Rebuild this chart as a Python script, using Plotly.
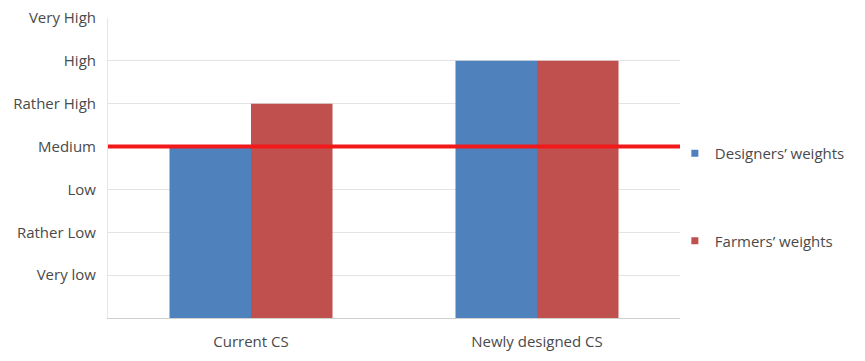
import plotly.graph_objects as go

categories = ["Current CS", "Newly designed CS"]
designers = [4, 6]
farmers = [5, 6]
tick_vals = [1, 2, 3, 4, 5, 6, 7]
tick_text = ["Very low", "Rather Low", "Low", "Medium", "Rather High", "High", "Very High"]
reference_level = 4
series_names = ["Designers\u2019 weights", "Farmers\u2019 weights"]
series_colors = ["#4F81BD", "#C0504D"]

fig = go.Figure()
for name, vals, col, grp in zip(series_names, [designers, farmers], series_colors, ["a", "b"]):
    fig.add_trace(go.Bar(name=name, x=categories, y=vals, marker_color=col,
                         marker_line_width=0, showlegend=False, legendgroup=grp))
for name, col, grp in zip(series_names, series_colors, ["a", "b"]):
    fig.add_trace(go.Scatter(name=name, x=[None], y=[None], mode="markers",
                             marker=dict(symbol="square", size=7, color=col),
                             legendgroup=grp, showlegend=True))

fig.add_shape(type="line", xref="paper", yref="y", x0=0, x1=1,
              y0=reference_level, y1=reference_level,
              line=dict(color="#F2191B", width=4))

fig.update_layout(
    width=865, height=361,
    margin=dict(l=108, r=185, t=18, b=43, autoexpand=False),
    paper_bgcolor="white", plot_bgcolor="white",
    barmode="group", bargap=0.43, bargroupgap=0,
    font=dict(family="Open Sans", size=15, color="#4A4A4A"),
    legend=dict(x=0.991, xanchor="left", y=0.603, yanchor="top",
                tracegroupgap=65, font=dict(size=15, color="#4A4A4A"),
                itemwidth=30, bgcolor="rgba(0,0,0,0)"),
    showlegend=True,
)
fig.update_xaxes(showline=True, linecolor="#D0D0D0", linewidth=1, automargin=False,
                 ticks="", ticklabelstandoff=10, tickfont=dict(size=15))
fig.update_yaxes(range=[0, 7], tickvals=tick_vals, ticktext=tick_text, automargin=False,
                 showgrid=True, gridcolor="#E3E3E3", gridwidth=1,
                 showline=True, linecolor="#E6E6E6", zeroline=False,
                 ticks="", ticklabelstandoff=8, tickfont=dict(size=15))

fig.write_html("out.html")
